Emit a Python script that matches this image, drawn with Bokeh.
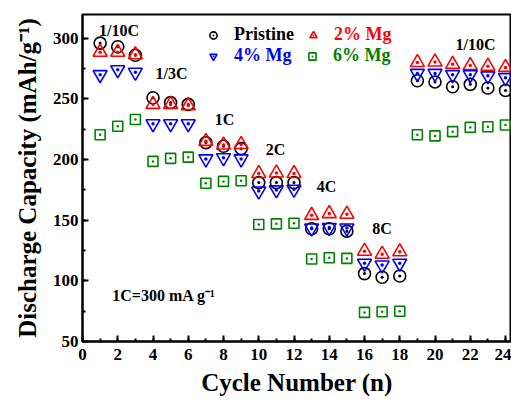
import numpy as np
from bokeh.plotting import figure
from bokeh.models import (Range1d, Legend, LegendItem, SingleIntervalTicker,
                          ColumnDataSource)
from bokeh.core.properties import value
from bokeh.embed import file_html
from bokeh.resources import INLINE

cycles = list(range(1, 25))
pristine = [296, 293, 286, 251, 247, 245.5, 214, 211, 209, 181, 181, 181,
            143, 143, 141, 106, 103, 104, 265, 264, 260, 262, 259, 257]
mg2 = [288.5, 288.5, 286.5, 245.5, 245.5, 244.5, 215, 212, 212.5, 188.5, 189, 188.5,
       154, 155.5, 155, 124.5, 122, 124, 280, 280.5, 278.5, 277.5, 277, 276]
mg4 = [270, 274, 272, 229.5, 229.5, 229.5, 200.5, 201.5, 200.5, 174, 175, 175.5,
       143.5, 144, 143.5, 114.5, 113, 114.5, 271, 271, 270, 270, 269, 267.5]
mg6 = [220.5, 227.5, 233, 198.5, 201, 202, 180.5, 182, 182.5, 146.5, 147, 147.5,
       118, 119, 118.5, 74, 74.5, 75, 220.5, 219.5, 223, 226.5, 227, 228.5]

rate_labels = ["1/10C", "1/3C", "1C", "2C", "4C", "8C", "1/10C"]
rate_x = [2.07, 5.05, 8.06, 10.95, 13.85, 17.0, 22.3]
rate_y = [306, 271, 233, 208.5, 178, 143.5, 295]
note_text = "1C=300 mA g\u207b\u00b9"
note_x = 1.69
note_y = 87.6

FONT = "Liberation Serif"

p = figure(width=511, height=401, output_backend="svg", toolbar_location=None,
           x_range=Range1d(0, 24.34), y_range=Range1d(50, 319.6),
           min_border_left=82, min_border_right=0, min_border_top=14,
           min_border_bottom=60)
p.xgrid.visible = False
p.ygrid.visible = False
p.outline_line_color = "black"
p.outline_line_width = 2
p.background_fill_color = "white"
p.border_fill_color = "white"

p.xaxis.ticker = SingleIntervalTicker(interval=2, num_minor_ticks=2)
p.yaxis.ticker = SingleIntervalTicker(interval=50, num_minor_ticks=2)
for ax in (p.xaxis[0], p.yaxis[0]):
    ax.axis_line_width = 2
    ax.major_tick_line_width = 2
    ax.minor_tick_line_width = 2
    ax.major_tick_in = 6
    ax.major_tick_out = 0
    ax.minor_tick_in = 3
    ax.minor_tick_out = 0
    ax.major_label_text_font = FONT
    ax.major_label_text_font_style = "bold"
    ax.major_label_text_font_size = "17px"
    ax.major_label_text_color = "black"
    ax.axis_label_text_font = FONT
    ax.axis_label_text_font_style = "bold"
    ax.axis_label_text_color = "black"
    ax.axis_label_text_font_size = "25px"
p.xaxis.axis_label = "Cycle Number (n)"
p.yaxis.axis_label = "Discharge Capacity (mAh/g\u207b\u00b9)"
p.xaxis.major_label_standoff = 7
p.yaxis.major_label_standoff = 4
p.xaxis.axis_label_standoff = 6
p.yaxis.axis_label_standoff = 9

src = ColumnDataSource(dict(x=cycles, a=pristine, b=mg2, c=mg4, d=mg6))

r0 = p.scatter("x", "a", source=src, marker="circle_dot", size=12,
               line_color="black", fill_alpha=0, line_width=1.6)
r1 = p.scatter("x", "b", source=src, marker="triangle_dot", size=14,
               line_color="red", fill_alpha=0, line_width=1.6)
r2 = p.scatter("x", "c", source=src, marker="inverted_triangle", size=14,
               line_color="blue", fill_alpha=0, line_width=1.6)
r2d = p.scatter("x", "c", source=src, marker="dot", size=14,
                line_color="blue", fill_color="blue", line_width=1.6)
r3 = p.scatter("x", "d", source=src, marker="square_dot", size=10,
               line_color="green", fill_alpha=0, line_width=1.6)

tsrc = ColumnDataSource(dict(x=rate_x, y=rate_y, t=rate_labels))
p.text("x", "y", text="t", source=tsrc, text_font=value(FONT),
       text_font_style="bold", text_font_size="16px", text_align="center",
       text_baseline="middle", text_color="black")
p.text(x=[note_x], y=[note_y], text=[note_text], text_font=value(FONT),
       text_font_style="bold", text_font_size="16px", text_align="left",
       text_baseline="middle", text_color="black")

legend_specs = [("Pristine", [r0], "black", (122, 296)),
                ("2% Mg", [r1], "red", (222, 296)),
                ("4% Mg", [r2, r2d], "blue", (122, 275)),
                ("6% Mg", [r3], "green", (221, 275))]
for lab, rends, col, loc in legend_specs:
    lg = Legend(items=[LegendItem(label=lab, renderers=rends)], location=loc,
                padding=0, margin=0, spacing=0, glyph_width=18, glyph_height=18,
                label_height=18, label_standoff=12, border_line_alpha=0,
                background_fill_alpha=0, label_text_font=FONT,
                label_text_font_style="bold", label_text_font_size="18px",
                label_text_color=col)
    p.add_layout(lg)

open("out.html", "w").write(file_html(p, INLINE))
